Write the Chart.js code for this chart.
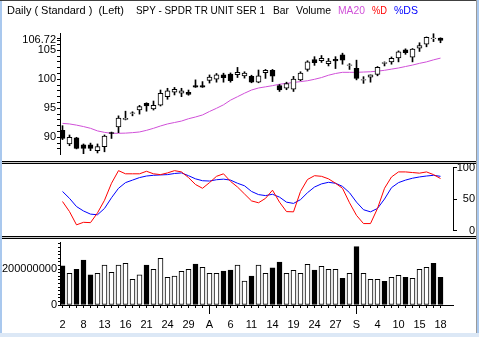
<!DOCTYPE html>
<html><head><meta charset="utf-8">
<script src="https://cdn.jsdelivr.net/npm/chart.js@4.4.1/dist/chart.umd.min.js"></script>
<style>
html,body{margin:0;padding:0;background:#fff;}
#wrap{position:relative;width:479px;height:337px;overflow:hidden;background:#fff;font-family:"Liberation Sans",Arial,sans-serif;font-size:11px;}
canvas{position:absolute;left:0;}
.t{position:absolute;top:4px;white-space:pre;font-size:11px;line-height:13px;color:#000;transform-origin:0 0;}
.sep{position:absolute;left:2px;width:475px;height:3px;border-top:1px solid #000;border-bottom:1px solid #000;background:#c8c8c8;box-sizing:border-box;z-index:5;}
.fr{position:absolute;z-index:6;}
</style></head>
<body><div id="wrap">
<canvas id="c1" width="479" height="160" style="top:0"></canvas>
<canvas id="c2" width="479" height="72" style="top:164px"></canvas>
<canvas id="c3" width="479" height="98" style="top:239px"></canvas>
<div class="t" data-w="117" style="left:7px">Daily ( Standard )  (Left)</div>
<div class="t" data-w="129" style="left:136px">SPY - SPDR TR UNIT SER 1</div>
<div class="t" data-w="16" style="left:273px">Bar</div>
<div class="t" data-w="35" style="left:296px">Volume</div>
<div class="t" data-w="27" style="left:338px;color:#d050d8">MA20</div>
<div class="t" data-w="15" style="left:372px;color:#ff0000">%D</div>
<div class="t" data-w="24" style="left:394px;color:#0000ff">%DS</div>
<div class="sep" style="top:161px"></div>
<div class="sep" style="top:236px"></div>
<div class="fr" style="left:0;top:0;width:479px;height:1px;background:#404040"></div>
<div class="fr" style="left:0;top:1px;width:2px;height:336px;background:#a9c8ee"></div>
<div class="fr" style="left:476px;top:0;width:1px;height:337px;background:#9a9a9a"></div>
<div class="fr" style="left:477px;top:0;width:2px;height:337px;background:#a9c8ee"></div>
<div class="fr" style="left:0;top:333px;width:479px;height:4px;background:#dce8f6"></div>
</div>
<script>
// ---- data ----
const dayLabels = ['2','8','13','16','21','24','29','A','6','11','14','19','24','27','S','4','10','15','18'];
const monthStarts = [21, 42];
const openP  = [91.2,88.85,89.9,88.7,88.7,87.7,88.4,90.8,91.8,93.1,94.1,94.7,95.85,94.9,95.55,97.0,97.8,97.6,97.75,98.9,98.9,99.8,100.0,100.75,100.9,100.8,100.6,100.5,99.5,101.15,101.55,98.9,98.45,98.3,99.9,101.7,103.4,103.2,102.7,103.45,104.2,102.4,101.9,99.85,100.35,100.85,102.75,103.0,103.7,105.1,103.8,105.35,106.05,107.0,107.1];
const highP  = [92.0,90.4,90.0,88.85,89.0,88.85,90.4,90.9,93.7,94.5,94.4,95.5,95.95,96.25,98.15,98.45,98.6,98.45,98.15,99.9,99.6,100.75,101.0,101.05,101.1,102.05,101.3,100.7,101.6,101.7,101.7,99.1,99.5,100.5,101.3,103.2,103.9,104.1,103.6,103.9,104.5,102.7,103.3,100.45,100.75,102.2,103.0,103.85,104.9,105.25,105.3,106.3,107.3,107.85,107.15];
const lowP   = [89.6,88.55,88.0,87.15,87.7,87.3,87.5,89.8,90.8,93.0,93.7,94.0,94.5,94.7,95.4,96.55,97.3,97.0,97.25,98.6,98.6,99.35,99.5,99.5,99.5,100.3,100.2,99.4,99.4,100.15,99.6,97.9,98.2,97.9,99.75,101.4,102.4,102.9,102.3,101.85,102.6,101.7,99.9,99.3,99.5,100.6,102.3,102.6,103.0,104.3,103.0,104.8,105.6,106.5,106.3];
const closeP = [89.8,90.0,88.1,88.1,88.1,88.4,90.2,90.65,93.3,93.25,94.2,95.3,95.4,95.5,97.6,98.0,98.25,98.0,97.4,98.65,98.65,100.4,100.75,100.3,99.75,101.2,101.05,99.5,100.6,101.55,100.55,98.15,99.25,100.05,101.05,103.0,102.85,103.6,103.15,103.15,103.3,102.5,100.15,99.95,100.75,102.05,102.9,103.6,104.75,104.6,105.2,105.8,107.25,107.1,106.72];
const ma20 = [92.4,92.3,92.1,91.85,91.55,91.1,90.85,90.69,90.69,90.72,90.8,90.92,91.2,91.55,91.95,92.3,92.55,92.8,93.2,93.5,93.85,94.45,95.0,95.6,96.4,97.0,97.6,98.15,98.5,98.7,98.9,99.15,99.3,99.45,99.6,99.75,100.0,100.3,100.7,101.0,101.2,101.2,101.2,101.25,101.3,101.4,101.55,101.75,101.95,102.2,102.45,102.75,103.0,103.35,103.65];
const pctD = [46,30,9,13,12.5,28,48,75,95,90,90,90,94,90,88.7,91.4,95,93,84,73,67,76,86,90,78,69,58,47,44,51,64,45,30,29.6,62,81,87,86,82,75,67,44,24,11,11,35,67,85,93,93,92,91,93,88.7,82.5];
const pctDS = [62,51,38,31,26,25,35,52,67,76,80,84,86.5,87.6,88.2,88.7,90.5,91.4,87,82,79,78.5,80.6,81.5,80,75,71,62,57,55.4,57.5,53,45,43,49,60,69,74,76.5,75,70,60,45,33,29.6,35,50,68,76,80,83,85,86.5,87.6,86];
const volume = [217,176,198,250,167,176,222,182,222,232,143,167,222,198,259,154,161,187,198,228,209,176,176,189,194,222,133,161,222,176,206,239,176,193,176,226,194,215,198,198,148,176,324,176,143,143,132,154,165,154,148,198,209,232,154].map(v=>v*1000000);
const volDown = [1,0,1,1,1,0,0,0,0,0,0,0,1,0,0,0,0,0,0,1,0,0,0,1,1,0,0,1,0,0,1,1,0,0,0,0,1,0,0,0,1,0,1,0,0,0,1,0,0,1,0,0,0,1,1];
const priceLabels = [90,95,100,105,106.72];
const stochLabels = [0,50,100];
const volLabels = [0,200000000];

// fit title pieces to their widths in the reference
document.querySelectorAll('.t').forEach(el => {
  const w = el.getBoundingClientRect().width, target = +el.dataset.w;
  if (w > 0) el.style.transform = 'scaleX(' + (target / w) + ')';
});

// ---- setup ----
Chart.defaults.font.family = '"Liberation Sans", Arial, sans-serif';
Chart.defaults.font.size = 11;
Chart.defaults.color = '#000';
const MA_COLOR = '#d050d8';
const idx = openP.map((_, i) => i);
const XMIN = -2.5/7, XMAX = -2.5/7 + 393/7;
const baseOpts = {responsive:false, animation:false, devicePixelRatio:1,
  plugins:{legend:{display:false}, tooltip:{enabled:false}}};
function hiddenX(){ return {type:'linear', min:XMIN, max:XMAX, display:false, offset:false, grid:{offset:false}}; }
function noPad(s){ s.paddingTop=0; s.paddingBottom=0; s.paddingLeft=0; s.paddingRight=0; }

// ---- price panel ----
const priceTicks = [];
for (let v = 88; v <= 107; v++) priceTicks.push(v);
priceTicks.push(106.72);
new Chart(document.getElementById('c1'), {
  type:'bar',
  data:{datasets:[
    {type:'bar', data: idx.map(i=>({x:i, y:[openP[i], closeP[i]]})),
     backgroundColor: idx.map(i=> closeP[i] >= openP[i] ? '#ffffff' : '#000000'),
     borderColor:'#000', borderWidth:1, borderSkipped:false, barThickness:5, grouped:false, order:0},
    {type:'bar', data: idx.map(i=>({x:i, y:[lowP[i], highP[i]]})),
     backgroundColor:'#000', borderWidth:0, barThickness:1, grouped:false, order:1},
    {type:'line', data: idx.map(i=>({x:i, y:ma20[i]})), borderColor:MA_COLOR, borderWidth:1,
     pointRadius:0, tension:0, order:2}
  ]},
  options:Object.assign({}, baseOpts, {
    layout:{padding:{left:0, right:26, top:33, bottom:6}},
    scales:{
      x: hiddenX(),
      y: {type:'linear', position:'left', min:87.12, max:107.98, beginAtZero:false,
        afterBuildTicks: s => { s.ticks = priceTicks.map(v=>({value:v})); },
        afterFit: s => { s.width = 60; noPad(s); },
        ticks:{autoSkip:false, padding:1, callback: v => priceLabels.includes(v) ? String(v) : ''},
        grid:{drawOnChartArea:false, tickLength:3, tickColor:'#000', color:'#000'},
        border:{color:'#000'}}
    }
  })
});

// ---- stochastic panel ----
new Chart(document.getElementById('c2'), {
  type:'line',
  data:{datasets:[
    {data: idx.map(i=>({x:i, y:pctD[i]})), borderColor:'#ff0000', borderWidth:1, pointRadius:0, tension:0},
    {data: idx.map(i=>({x:i, y:pctDS[i]})), borderColor:'#0000ff', borderWidth:1, pointRadius:0, tension:0}
  ]},
  options:Object.assign({}, baseOpts, {
    layout:{padding:{left:60, right:4, top:3.5, bottom:5.5}},
    scales:{
      x: hiddenX(),
      y: {type:'linear', position:'right', min:0, max:100,
        afterBuildTicks: s => { s.ticks = stochLabels.map(v=>({value:v})); },
        afterFit: s => { s.width = 22; noPad(s); },
        ticks:{autoSkip:false, padding:0, crossAlign:'far'},
        grid:{drawOnChartArea:false, tickLength:4, tickColor:'#000', color:'#000'},
        border:{color:'#000'}}
    }
  })
});

// ---- volume panel ----
const volTicks = [];
for (let v = 0; v <= 340000000; v += 20000000) volTicks.push(v);
const monthTickPlugin = {id:'monthTicks', afterDraw(chart){
  const {ctx, chartArea} = chart; const x = chart.scales.x;
  ctx.save(); ctx.strokeStyle = '#000'; ctx.lineWidth = 1;
  monthStarts.forEach(i => {
    const px = Math.round(x.getPixelForValue(i) - 0.5) + 0.5;
    ctx.beginPath(); ctx.moveTo(px, chartArea.bottom); ctx.lineTo(px, chartArea.bottom + 9); ctx.stroke();
  });
  ctx.restore();
}};
new Chart(document.getElementById('c3'), {
  type:'bar',
  data:{datasets:[
    {data: idx.map(i=>({x:i, y:volume[i]})),
     backgroundColor: idx.map(i=> volDown[i] ? '#000000' : '#ffffff'),
     borderColor:'#000', borderWidth:1, borderSkipped:false, barThickness:5, grouped:false}
  ]},
  options:Object.assign({}, baseOpts, {
    layout:{padding:{left:0, right:26, top:3, bottom:0}},
    scales:{
      x: {type:'linear', position:'bottom', min:XMIN, max:XMAX, offset:false,
        afterBuildTicks: s => { s.ticks = idx.map(v=>({value:v})); },
        afterFit: s => { s.height = 32; noPad(s); },
        ticks:{autoSkip:false, maxRotation:0, minRotation:0, padding:10,
          callback: v => (v % 3 === 0 && dayLabels[v/3] !== undefined) ? dayLabels[v/3] : ''},
        grid:{drawOnChartArea:false, offset:false, tickLength:3, tickColor:'#000', color:'#000'},
        border:{color:'#000'}},
      y: {type:'linear', position:'left', min:0, max:350000000,
        afterBuildTicks: s => { s.ticks = volTicks.map(v=>({value:v})); },
        afterFit: s => { s.width = 60; noPad(s); },
        ticks:{autoSkip:false, padding:1, callback: v => volLabels.includes(v) ? String(v) : ''},
        grid:{drawOnChartArea:false, tickLength:2, tickColor:'#000', color:'#000'},
        border:{color:'#000'}}
    }
  }),
  plugins:[monthTickPlugin]
});
</script>
</body></html>
